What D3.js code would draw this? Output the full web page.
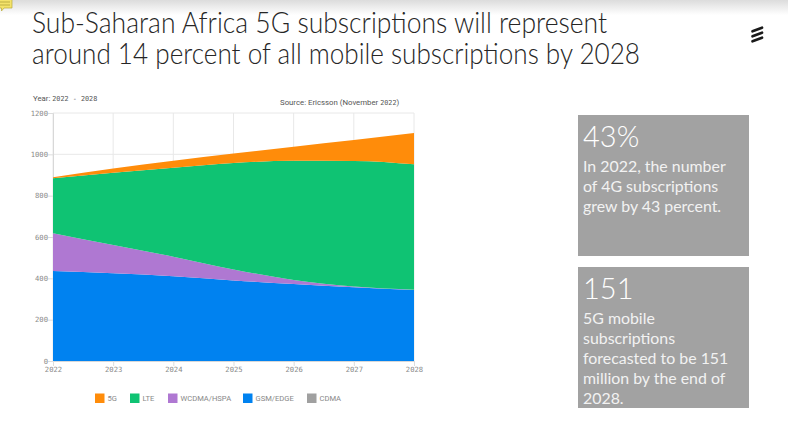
<!DOCTYPE html>
<html><head><meta charset="utf-8">
<script src="https://cdn.jsdelivr.net/npm/d3@7"></script>
<style>html,body{margin:0;padding:0;background:#fff}svg{display:block}</style></head>
<body><svg id="c" width="788" height="442"></svg>
<script>
const years=[2022,2023,2024,2025,2026,2027,2028];
const seriesNames=["CDMA","GSM/EDGE","WCDMA/HSPA","LTE","5G"];
const legendOrder=["5G","LTE","WCDMA/HSPA","GSM/EDGE","CDMA"];
const cdma=[0,0,0,0,0,0,0];
const gsm=[435,424,410,390,373,357,344];
const wcdma=[183,137,95,53,19,3,1];
const lte=[266,350,430,515,577,608,607];
const fiveG=[5,21,34,46,68,101,151];
const yTicks=[0,200,400,600,800,1000,1200];
const colors={"5G":"#ff8c0a","LTE":"#0fc373","WCDMA/HSPA":"#af78d2","GSM/EDGE":"#0082f0","CDMA":"#a0a0a0"};
const titleLines=["Sub-Saharan Africa 5G subscriptions will represent","around 14 percent of all mobile subscriptions by 2028"];
const cards=[{head:"43%",lines:["In 2022, the number","of 4G subscriptions","grew by 43 percent."]},
{head:"151",lines:["5G mobile","subscriptions","forecasted to be 151","million by the end of","2028."]}];

const valuesBy={"CDMA":cdma,"GSM/EDGE":gsm,"WCDMA/HSPA":wcdma,"LTE":lte,"5G":fiveG};
const rows=years.map((y,i)=>{const r={year:y};seriesNames.forEach(n=>r[n]=valuesBy[n][i]);return r;});
const svg=d3.select("#c");
const font="Lato, 'Open Sans', sans-serif", mono="'DejaVu Sans Mono', monospace", small="Roboto, sans-serif";

const defs=svg.append("defs");
const g=defs.append("linearGradient").attr("id","top").attr("x1",0).attr("x2",0).attr("y1",0).attr("y2",1);
g.append("stop").attr("offset",0).attr("stop-color","#dcdcdc");
g.append("stop").attr("offset",1).attr("stop-color","#ffffff");
svg.append("rect").attr("width",788).attr("height",15).attr("fill","url(#top)");

// note icon
svg.append("path").attr("d","M-2 -1H12V8H4L1.5 11V8H-2Z").attr("fill","#f4e36a").attr("stroke","#b8a93a").attr("stroke-width",.7);
[2,5].forEach(y=>svg.append("line").attr("x1",0).attr("x2",10).attr("y1",y).attr("y2",y).attr("stroke","#a89a30").attr("stroke-width",.7));

svg.append("g").selectAll("text").data(titleLines).join("text")
 .attr("x",32).attr("y",(d,i)=>33+i*31).attr("font-family",font).attr("font-size",28.5).attr("font-weight",300)
 .attr("fill","#262626").attr("textLength",(d,i)=>i?608:575).attr("lengthAdjust","spacingAndGlyphs").text(d=>d);

// logo
[29.5,34.5,39.5].forEach(c=>svg.append("line").attr("x1",752.5).attr("x2",762).attr("y1",c+1.8).attr("y2",c-1.8).attr("stroke","#1a1a1a").attr("stroke-width",2.7).attr("stroke-linecap","round"));

const x=d3.scalePoint().domain(years).range([53,414]);
const y=d3.scaleLinear().domain([0,1200]).range([361,113]);
const stack=d3.stack().keys(seriesNames)(rows);
const area=d3.area().x(d=>x(d.data.year)).y0(d=>y(d[0])).y1(d=>y(d[1])).curve(d3.curveMonotoneX);

svg.append("g").selectAll("line").data(yTicks).join("line").attr("x1",53).attr("x2",414).attr("y1",d=>y(d)).attr("y2",d=>y(d)).attr("stroke","#e8e8e8").attr("stroke-width",1);
svg.append("g").selectAll("line").data(years).join("line").attr("x1",d=>x(d)).attr("x2",d=>x(d)).attr("y1",113).attr("y2",361).attr("stroke","#e8e8e8").attr("stroke-width",1);

const yg=svg.append("g").attr("transform","translate(53,0)").call(d3.axisLeft(y).tickValues(yTicks).tickSize(5).tickFormat(d3.format("d")));
const xg=svg.append("g").attr("transform","translate(0,361)").call(d3.axisBottom(x).tickSize(5).tickFormat(d3.format("d")));
[yg,xg].forEach(a=>{a.select(".domain").attr("stroke","#d8d8d8");a.selectAll("line").attr("stroke","#dddddd");
 a.selectAll("text").attr("font-family",mono).attr("font-size",7.2).attr("fill","#8a8a8a");});
yg.selectAll("text").attr("x",-5);
xg.selectAll("text").attr("y",6);

svg.append("g").selectAll("path").data(stack).join("path").attr("d",area).attr("fill",d=>colors[d.key]);

function label(xp,yp,a,b,c){const t=svg.append("text").attr("x",xp).attr("y",yp).attr("font-family",small).attr("font-size",7.8).attr("fill","#555");
 t.append("tspan").text(a);t.append("tspan").attr("font-family",mono).attr("font-size",6.8).text(b);if(c)t.append("tspan").text(c);}
label(33,101,"Year: ","2022 - 2028");
label(280,105,"Source: Ericsson (November ","2022",")");

const legendX=[95,130,168,243,307];
const lg=svg.append("g").selectAll("g").data(legendOrder).join("g").attr("transform",(d,i)=>`translate(${legendX[i]},393.5)`);
lg.append("rect").attr("width",9.5).attr("height",9.5).attr("fill",d=>colors[d]);
lg.append("text").attr("x",12.5).attr("y",7.5).attr("font-family",small).attr("font-size",7.6).attr("fill","#888").text(d=>d);

const boxes=[{y:115,h:141,head:147,first:172},{y:267,h:141,head:299,first:324}];
cards.forEach((c,i)=>{const b=boxes[i];
 svg.append("rect").attr("x",578).attr("y",b.y).attr("width",171).attr("height",b.h).attr("fill","#a2a2a2");
 svg.append("text").attr("x",583).attr("y",b.head).attr("font-family",font).attr("font-size",29).attr("font-weight",300).attr("fill","#fff").text(c.head);
 svg.append("g").selectAll("text").data(c.lines).join("text").attr("x",583).attr("y",(d,j)=>b.first+j*20)
  .attr("font-family",font).attr("font-size",15.9).attr("fill","#f2f2f2").text(d=>d);
});
</script></body></html>
